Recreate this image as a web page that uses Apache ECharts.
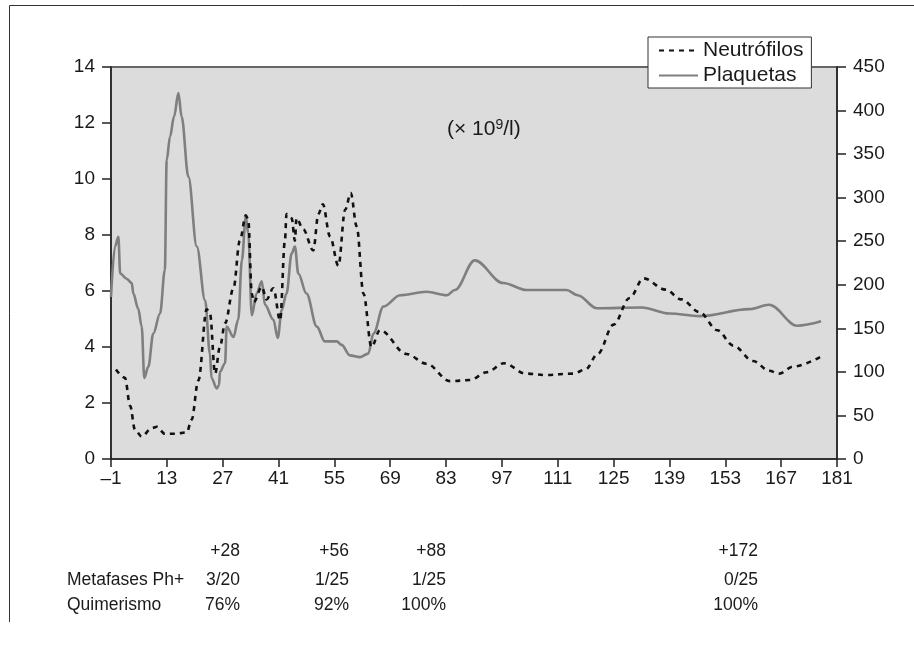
<!DOCTYPE html>
<html>
<head>
<meta charset="utf-8">
<script src="https://cdn.jsdelivr.net/npm/echarts@6/dist/echarts.min.js"></script>
<style>
html,body{margin:0;padding:0;background:#fff;}
#chart{width:914px;height:646px;}
</style>
</head>
<body>
<div id="chart"></div>
<script>
// ---- Data ----
var xTickLabels = ['–1','13','27','41','55','69','83','97','111','125','139','153','167','181'];
var leftTicks = [0,2,4,6,8,10,12,14];
var rightTicks = [0,50,100,150,200,250,300,350,400,450];

var neutroDays = [0.25,2.5,3.8,5,6.7,9.2,10.5,12.5,15,18,19.2,20.9,23,23.8,25.1,26.3,27.6,29.7,31.3,32.8,33.4,34.3,34.8,36.8,38,39.7,41.4,42.6,43.0,44.3,45.1,45.5,47.2,49.7,51,52.1,53.9,56,57.7,59.1,60.6,62.3,64.3,66.4,73.1,78.1,84,89,93.2,97.5,103,108,114.9,118,121,125,129,132.5,138,142,146.5,151,155,160,164,166.5,170,177.5];
var neutroVals = [3.2,2.9,1.9,1.05,0.8,1.1,1.15,0.9,0.9,0.95,1.4,2.8,5.35,5.2,3.05,4.0,4.85,6.1,7.8,8.7,8.55,5.9,5.6,6.15,5.7,6.1,4.95,7.8,8.75,8.6,7.8,8.6,8.2,7.45,8.75,9.1,7.95,6.9,8.9,9.5,8.3,5.9,4.0,4.6,3.75,3.4,2.78,2.82,3.1,3.42,3.05,3.0,3.05,3.2,3.75,4.8,5.75,6.45,6.05,5.7,5.25,4.6,4.05,3.5,3.15,3.05,3.3,3.7];

var plaqDays = [-1,0,0.85,1.3,2.9,4.2,4.6,5.8,6.7,7.35,8.35,9.6,11.3,12.5,12.96,13.8,14.8,15.9,16.7,18.4,20.5,22.6,23.8,24.2,25.5,26.1,26.3,27.6,28,29.7,30.9,31.8,32.8,33.4,34.3,35.5,36.8,37.6,39.7,40.8,41.8,43,44.3,45.1,45.95,48,50.6,52.6,55.6,56.8,58.9,61.4,63.5,64.8,67.3,71.5,78.1,83.2,85.2,90.2,97.3,103.2,113.2,116,120.8,132,139,146.5,159,164,171,177];
var plaqVals = [186,244,255,213,207,202,190,173,152,93,106,144,167,217,343,370,393,420,393,324,244,182,121,93,81,85,100,110,152,140,160,228,278,259,165,190,204,177,160,139,171,190,236,244,213,190,152,135,135,131,119,117,121,144,175,188,192,188,194,228,202,194,194,188,173,174,167,164,172,177,153,158];

var tableHead = ['+28','+56','+88','+172'];
var metafases = ['3/20','1/25','1/25','0/25'];
var quimerismo = ['76%','92%','100%','100%'];
var rowLabels = ['Metafases Ph+','Quimerismo'];
var seriesNames = ['Neutrófilos','Plaquetas'];
var unitText = '(× 10{sup|9}/l)';

// ---- Build ----
var FONT = '"Liberation Sans", Arial, Helvetica, sans-serif';
var TXT = '#1a1a1a';
function pairs(days, vals){ var out=[]; for(var i=0;i<days.length;i++){ out.push([days[i]+1, vals[i]]); } return out; }

var colRight = [240, 349, 446, 758];
var TS = 17.5;
var graphics = [
  {type:'line', shape:{x1:9.5,y1:5.5,x2:914,y2:5.5}, style:{stroke:'#333',lineWidth:1}, z:10},
  {type:'line', shape:{x1:9.5,y1:5.5,x2:9.5,y2:622}, style:{stroke:'#333',lineWidth:1}, z:10},
  {type:'text', left:447, top:118, z:10, style:{text:unitText, fontSize:21, fontFamily:FONT, fill:TXT,
     rich:{sup:{fontSize:14, fontFamily:FONT, fill:TXT, verticalAlign:'top', padding:[0,0,8,0]}}}}
];
graphics.push({type:'text', x:67, y:580, z:10, style:{text:rowLabels[0], fontSize:TS, fontFamily:FONT, fill:TXT, textAlign:'left', textVerticalAlign:'middle'}});
graphics.push({type:'text', x:67, y:605, z:10, style:{text:rowLabels[1], fontSize:TS, fontFamily:FONT, fill:TXT, textAlign:'left', textVerticalAlign:'middle'}});
for (var c=0;c<tableHead.length;c++){
  graphics.push({type:'text', x:colRight[c], y:551, z:10, style:{text:tableHead[c], fontSize:TS, fontFamily:FONT, fill:TXT, textAlign:'right', textVerticalAlign:'middle'}});
  graphics.push({type:'text', x:colRight[c], y:580, z:10, style:{text:metafases[c], fontSize:TS, fontFamily:FONT, fill:TXT, textAlign:'right', textVerticalAlign:'middle'}});
  graphics.push({type:'text', x:colRight[c], y:605, z:10, style:{text:quimerismo[c], fontSize:TS, fontFamily:FONT, fill:TXT, textAlign:'right', textVerticalAlign:'middle'}});
}

var chart = echarts.init(document.getElementById('chart'), null, {renderer:'canvas'});
chart.setOption({
  animation:false,
  backgroundColor:'#fff',
  grid:{left:111, right:77, top:67, bottom:187, show:true, backgroundColor:'#dcdcdd', borderColor:'#666', borderWidth:2},
  legend:{
    data:seriesNames, left:648, top:37, orient:'vertical', z:20,
    backgroundColor:'#fff', borderColor:'#333', borderWidth:1, padding:[3,8,2,10],
    itemGap:4, itemWidth:39, itemHeight:14,
    itemStyle:{opacity:0},
    textStyle:{fontSize:21, color:TXT, fontFamily:FONT}
  },
  xAxis:{
    type:'value', min:0, max:182, interval:14,
    axisLine:{show:true, lineStyle:{color:'#222', width:1.5}},
    axisTick:{show:true, length:8, inside:false, lineStyle:{color:'#222', width:1.5}},
    splitLine:{show:false},
    axisLabel:{margin:10, fontSize:19, color:TXT, fontFamily:FONT,
      formatter:function(v){ return xTickLabels[Math.round(v/14)]; }}
  },
  yAxis:[
    {type:'value', min:0, max:14, interval:2, position:'left',
     axisLine:{show:true, lineStyle:{color:'#222', width:1.5}},
     axisTick:{show:true, length:9, lineStyle:{color:'#222', width:1.5}},
     splitLine:{show:false},
     axisLabel:{margin:16, fontSize:19, color:TXT, fontFamily:FONT,
       formatter:function(v){ return String(leftTicks[Math.round(v/2)]); }}},
    {type:'value', min:0, max:450, interval:50, position:'right',
     axisLine:{show:true, lineStyle:{color:'#222', width:1.5}},
     axisTick:{show:true, length:9, lineStyle:{color:'#222', width:1.5}},
     splitLine:{show:false},
     axisLabel:{margin:16, fontSize:19, color:TXT, fontFamily:FONT,
       formatter:function(v){ return String(rightTicks[Math.round(v/50)]); }}}
  ],
  series:[
    {name:seriesNames[0], type:'line', yAxisIndex:0, data:pairs(neutroDays, neutroVals),
     symbol:'none', smooth:0.35, smoothMonotone:'x', z:3,
     lineStyle:{color:'#111', width:2.6, type:[5,5]}, itemStyle:{color:'#111'}},
    {name:seriesNames[1], type:'line', yAxisIndex:1, data:pairs(plaqDays, plaqVals),
     symbol:'none', smooth:0.35, smoothMonotone:'x', z:2,
     lineStyle:{color:'#7f7f7f', width:2.6}, itemStyle:{color:'#7f7f7f'}}
  ],
  graphic:graphics
});
</script>
</body>
</html>
